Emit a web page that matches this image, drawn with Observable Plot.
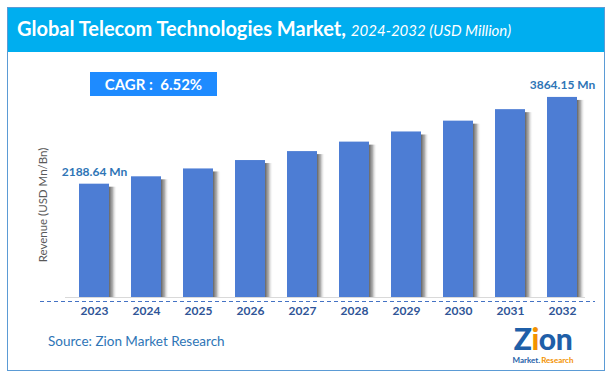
<!DOCTYPE html>
<html><head><meta charset="utf-8">
<script src="https://cdn.jsdelivr.net/npm/d3@7"></script>
<script src="https://cdn.jsdelivr.net/npm/@observablehq/plot@0.6"></script>
<style>
html,body{margin:0;padding:0;background:#fff;}
#wrap{position:relative;width:612px;height:379px;overflow:hidden;font-family:Lato,"Open Sans",sans-serif;}
#frame{position:absolute;left:7px;top:7px;width:596px;height:362px;border:1.5px solid #5B9BD5;box-sizing:content-box;}
#band{position:absolute;left:7px;top:7px;width:598px;height:45px;background:#00AEEF;}
#title{position:absolute;left:17px;top:16px;color:#fff;white-space:nowrap;font-size:20px;font-weight:bold;}
#title i{font-weight:normal;font-size:15px;}
#chart{position:absolute;left:0;top:0;}
#cagr{position:absolute;left:90px;top:72px;width:127px;height:24px;background:#1E8BFF;color:#fff;font-weight:bold;font-size:15px;line-height:24px;text-align:center;white-space:pre;}
#ylab{position:absolute;left:42px;top:205px;transform:translate(-50%,-50%) rotate(-90deg);color:#595959;font-size:11.5px;white-space:nowrap;}
#source{position:absolute;left:48px;top:333px;color:#2E75B6;font-size:13.5px;}
#logoZ{position:absolute;left:508px;top:326px;width:70px;height:25px;text-align:center;font-size:30px;font-weight:900;color:#1F5FA8;line-height:25px;letter-spacing:-0.5px;}
#logoZ span{color:#F39200;}
#logoM{position:absolute;left:508px;top:356px;width:70px;text-align:center;font-size:8px;font-weight:bold;line-height:9px;color:#1F5FA8;}
#logoM span{color:#F39200;margin-left:1px;}
</style></head>
<body>
<div id="wrap">
  <div id="band"></div>
  <div id="frame"></div>
  <div id="title">Global Telecom Technologies Market, <i>2024-2032 (USD Million)</i></div>
  <div id="chart"></div>
  <div id="cagr">CAGR :  6.52%</div>
  <div id="ylab">Revenue (USD Mn/Bn)</div>
  <div id="source">Source: Zion Market Research</div>
  <div id="logoZ">Z<span>i</span>on</div>
  <div id="logoM">Market.<span>Research</span></div>
</div>
<script>
const years = ["2023","2024","2025","2026","2027","2028","2029","2030","2031","2032"];
const revenue = [2188.64, 2331, 2483, 2645, 2818, 3001, 3197, 3406, 3628, 3864.15];
const valueLabels = ["2188.64 Mn","","","","","","","","","3864.15 Mn"];

const data = years.map((y, i) => ({year: y, value: revenue[i], label: valueLabels[i]}));

const chart = Plot.plot({
  width: 612,
  height: 379,
  marginLeft: 55,
  marginRight: 12,
  marginTop: 64,
  marginBottom: 82,
  style: {background: "transparent", fontFamily: "Lato, 'Open Sans', sans-serif"},
  x: {domain: years, padding: 0.43, label: null},
  y: {domain: [0, 4500], axis: null},
  marks: [
    Plot.barY(data, {x: "year", y: "value", fill: "url(#shadowGrad)", dx: 8, insetTop: 3}),
    Plot.barY(data, {x: "year", y: "value", fill: "#4D7DD4"}),
    Plot.ruleY([0], {stroke: "#D9D9D9", strokeWidth: 1, insetLeft: 10, insetRight: 15}),
    Plot.ruleY([0], {stroke: "#4472C4", strokeWidth: 1, strokeDasharray: "4,3", dy: 4, insetLeft: -15, insetRight: 5}),
    Plot.axisX({tickSize: 0, tickPadding: 9, fontSize: 12, fontWeight: "bold", fill: "#2F5597", label: null}),
    Plot.text(data.filter(d => d.label), {x: "year", y: "value", text: "label", dy: -12, fill: "#2E75B6", fontWeight: "bold", fontSize: 12})
  ]
});
const ns = "http://www.w3.org/2000/svg";
const defs = document.createElementNS(ns, "defs");
const grad = document.createElementNS(ns, "linearGradient");
grad.setAttribute("id", "shadowGrad");
grad.setAttribute("x1", "0"); grad.setAttribute("x2", "1");
grad.setAttribute("y1", "0"); grad.setAttribute("y2", "0");
[["0%", "#5a5a5a", 1], ["72%", "#5a5a5a", 1], ["85%", "#9a9a9a", 0.8], ["100%", "#ffffff", 0]].forEach(([o, c, a]) => {
  const s = document.createElementNS(ns, "stop");
  s.setAttribute("offset", o); s.setAttribute("stop-color", c); s.setAttribute("stop-opacity", a);
  grad.appendChild(s);
});
defs.appendChild(grad);
chart.insertBefore(defs, chart.firstChild);
document.getElementById("chart").appendChild(chart);
</script>
</body></html>
